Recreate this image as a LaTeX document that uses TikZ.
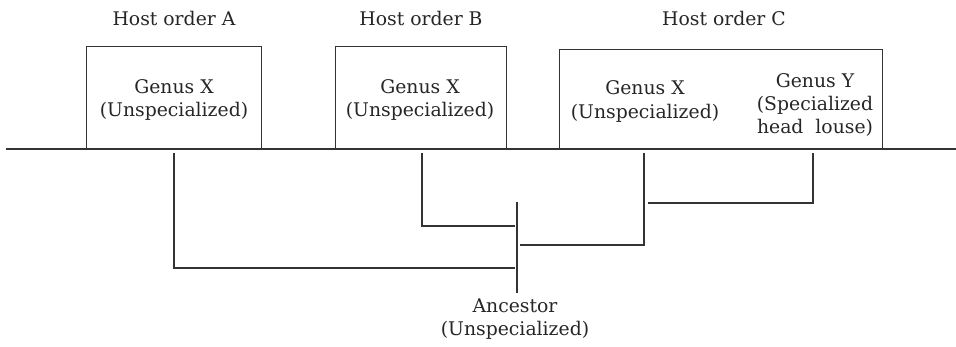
\documentclass[tikz,border=0pt]{standalone}
\usepackage{fontspec}
\setmainfont{DejaVu Serif}
\begin{document}
\begin{tikzpicture}[x=1pt,y=-1pt,
  line/.style={draw=black!80,line width=1.1pt},
  hostbox/.style={draw=black!80,line width=1pt,rectangle,inner sep=0pt},
  lbl/.style={font=\fontsize{18.8}{23.3}\selectfont,align=center,inner sep=0pt,text=black!85}]
\useasboundingbox (0,0) rectangle (956,346);
% host boxes
\node[hostbox,minimum width=175pt,minimum height=103pt] (boxA) at (173.5,97.5) {};
\node[hostbox,minimum width=171pt,minimum height=103pt] (boxB) at (420.5,97.5) {};
\node[hostbox,minimum width=323pt,minimum height=100pt] (boxC) at (720.5,99) {};
% baseline
\coordinate (bl) at (6,149);
\coordinate (br) at (956,149);
\draw[line] (bl) -- (br);
% labels
\node[lbl] (hA) at (174,18) {Host order A};
\node[lbl] (hB) at (421,18) {Host order B};
\node[lbl] (hC) at (724,18) {Host order C};
\node[lbl] (gA) at (174,100) {Genus X\\(Unspecialized)};
\node[lbl] (gB) at (420,100) {Genus X\\(Unspecialized)};
\node[lbl] (gC) at (645,101.5) {Genus X\\(Unspecialized)};
\node[lbl] (gY) at (815,105) {Genus Y\\(Specialized\\head\ \ louse)};
\node[lbl] (anc) at (515,319) {Ancestor\\(Unspecialized)};
% tree
\coordinate (tA) at (174,153);
\coordinate (tB) at (422,153);
\coordinate (tC) at (644,153);
\coordinate (tY) at (813,153);
\coordinate (ancTop) at (517,202);
\coordinate (ancBot) at (517,293);
\coordinate (jA) at (515,268);
\coordinate (jB) at (515,226);
\coordinate (jC) at (520,245);
\coordinate (jY) at (648,203);
\draw[line] (ancTop) -- (ancBot);
\draw[line] (tA) |- (jA);
\draw[line] (tB) |- (jB);
\draw[line] (jC) -| (tC);
\draw[line] (jY) -| (tY);
\end{tikzpicture}
\end{document}
